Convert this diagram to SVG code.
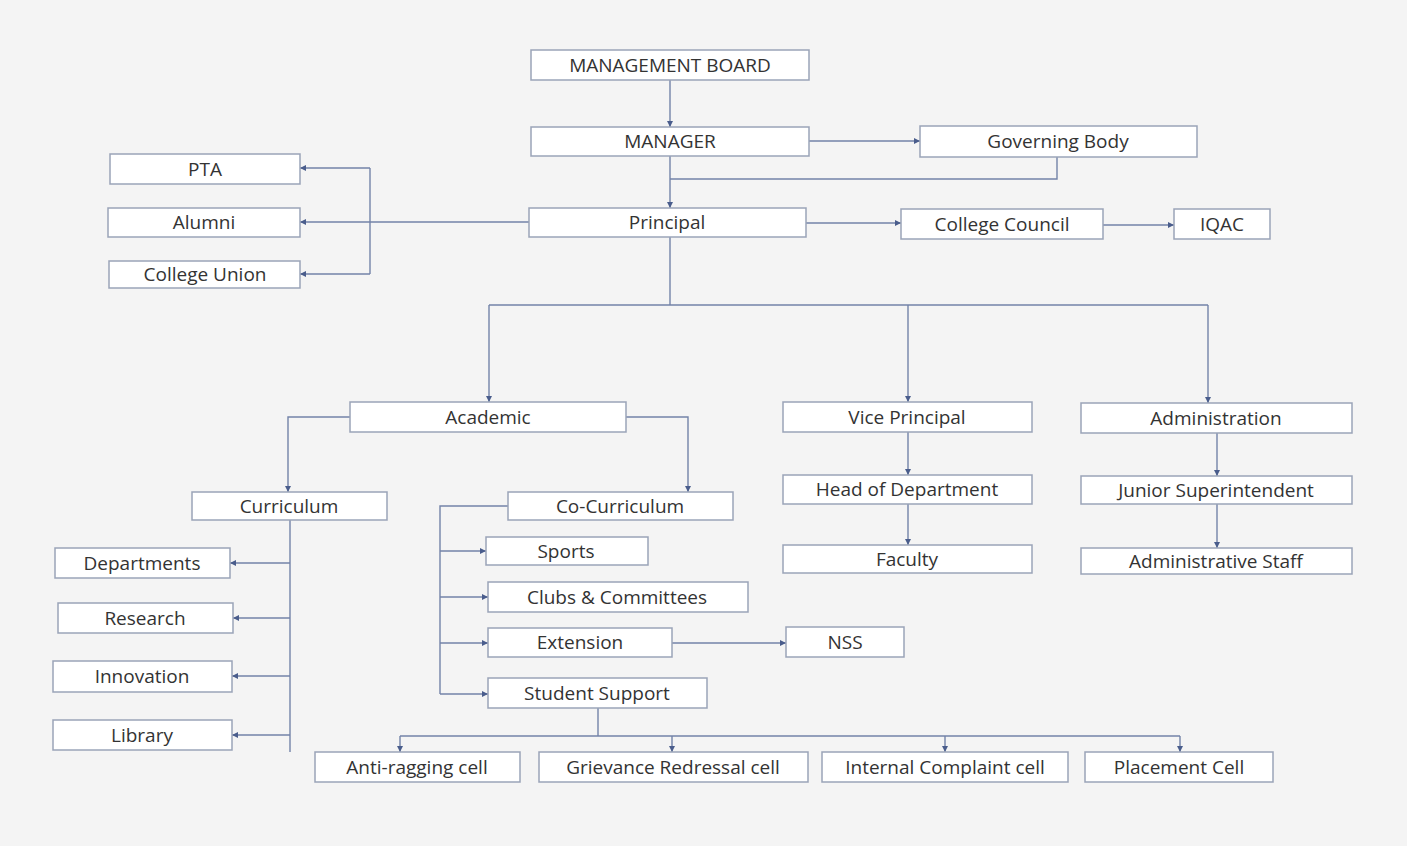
<svg xmlns="http://www.w3.org/2000/svg" width="1407" height="846" viewBox="0 0 1407 846">
<style>
.bg{fill:#f4f4f4}
.box{fill:#ffffff;stroke:#9aa4b8;stroke-width:1.5}
.t{font-family:"Open Sans","Liberation Sans",sans-serif;font-size:19px;fill:#333;text-anchor:middle}
.c path{fill:none;stroke:#7383a8;stroke-width:1.4}
</style>
<defs>
<marker id="a" markerUnits="userSpaceOnUse" markerWidth="7" markerHeight="7" refX="6" refY="3.5" orient="auto">
<path d="M0,0.5 L6,3.5 L0,6.5 z" fill="#4a5d8c"/>
</marker>
</defs>
<rect class="bg" x="0" y="0" width="1407" height="846" fill="#ffffff"/>
<rect class="bg" x="5" y="3" width="1397" height="843"/>

<g class="c" id="connectors">
<path d="M670,80 V127" marker-end="url(#a)"/>
<path d="M670,156 V208" marker-end="url(#a)"/>
<path d="M809,141 H920" marker-end="url(#a)"/>
<path d="M1057,157 V179 H670"/>
<path d="M529,222 H300" marker-end="url(#a)"/>
<path d="M370,168 V274"/>
<path d="M370,168 H300" marker-end="url(#a)"/>
<path d="M370,274 H300" marker-end="url(#a)"/>
<path d="M806,223 H901" marker-end="url(#a)"/>
<path d="M1103,225 H1174" marker-end="url(#a)"/>
<path d="M670,237 V305"/>
<path d="M489,305 H1208"/>
<path d="M489,305 V402" marker-end="url(#a)"/>
<path d="M908,305 V402" marker-end="url(#a)"/>
<path d="M1208,305 V403" marker-end="url(#a)"/>
<path d="M908,432 V475" marker-end="url(#a)"/>
<path d="M908,504 V545" marker-end="url(#a)"/>
<path d="M1217,433 V476" marker-end="url(#a)"/>
<path d="M1217,504 V548" marker-end="url(#a)"/>
<path d="M350,417 H288 V492" marker-end="url(#a)"/>
<path d="M626,417 H688 V492" marker-end="url(#a)"/>
<path d="M290,520 V752"/>
<path d="M290,563 H230" marker-end="url(#a)"/>
<path d="M290,618 H233" marker-end="url(#a)"/>
<path d="M290,676 H232" marker-end="url(#a)"/>
<path d="M290,735 H232" marker-end="url(#a)"/>
<path d="M508,506 H440 V694"/>
<path d="M440,551 H486" marker-end="url(#a)"/>
<path d="M440,597 H488" marker-end="url(#a)"/>
<path d="M440,643 H488" marker-end="url(#a)"/>
<path d="M440,694 H488" marker-end="url(#a)"/>
<path d="M672,643 H786" marker-end="url(#a)"/>
<path d="M598,708 V736"/>
<path d="M400,736 H1180"/>
<path d="M400,736 V752" marker-end="url(#a)"/>
<path d="M672,736 V752" marker-end="url(#a)"/>
<path d="M945,736 V752" marker-end="url(#a)"/>
<path d="M1180,736 V752" marker-end="url(#a)"/>
</g>

<g id="n-board"><rect class="box" x="531" y="50" width="278" height="30"/><text class="t" x="670" y="72">MANAGEMENT BOARD</text></g>
<g id="n-manager"><rect class="box" x="531" y="127" width="278" height="29"/><text class="t" x="670" y="148">MANAGER</text></g>
<g id="n-gb"><rect class="box" x="920" y="126" width="277" height="31"/><text class="t" x="1058" y="148">Governing Body</text></g>
<g id="n-principal"><rect class="box" x="529" y="208" width="277" height="29"/><text class="t" x="667" y="229">Principal</text></g>
<g id="n-cc"><rect class="box" x="901" y="209" width="202" height="30"/><text class="t" x="1002" y="231">College Council</text></g>
<g id="n-iqac"><rect class="box" x="1174" y="209" width="96" height="30"/><text class="t" x="1222" y="231">IQAC</text></g>
<g id="n-pta"><rect class="box" x="110" y="154" width="190" height="30"/><text class="t" x="205" y="176">PTA</text></g>
<g id="n-alumni"><rect class="box" x="108" y="208" width="192" height="29"/><text class="t" x="204" y="229">Alumni</text></g>
<g id="n-union"><rect class="box" x="109" y="261" width="191" height="27"/><text class="t" x="205" y="281">College Union</text></g>

<g id="n-academic"><rect class="box" x="350" y="402" width="276" height="30"/><text class="t" x="488" y="424">Academic</text></g>
<g id="n-vp"><rect class="box" x="783" y="402" width="249" height="30"/><text class="t" x="907" y="424">Vice Principal</text></g>
<g id="n-admin"><rect class="box" x="1081" y="403" width="271" height="30"/><text class="t" x="1216" y="425">Administration</text></g>
<g id="n-hod"><rect class="box" x="783" y="475" width="249" height="29"/><text class="t" x="907" y="496">Head of Department</text></g>
<g id="n-faculty"><rect class="box" x="783" y="545" width="249" height="28"/><text class="t" x="907" y="566">Faculty</text></g>
<g id="n-js"><rect class="box" x="1081" y="476" width="271" height="28"/><text class="t" x="1216" y="497">Junior Superintendent</text></g>
<g id="n-as"><rect class="box" x="1081" y="548" width="271" height="26"/><text class="t" x="1216" y="568">Administrative Staff</text></g>

<g id="n-curr"><rect class="box" x="192" y="492" width="195" height="28"/><text class="t" x="289" y="513">Curriculum</text></g>
<g id="n-cocurr"><rect class="box" x="508" y="492" width="225" height="28"/><text class="t" x="620" y="513">Co-Curriculum</text></g>
<g id="n-dept"><rect class="box" x="55" y="548" width="175" height="30"/><text class="t" x="142" y="570">Departments</text></g>
<g id="n-research"><rect class="box" x="58" y="603" width="175" height="30"/><text class="t" x="145" y="625">Research</text></g>
<g id="n-innov"><rect class="box" x="53" y="661" width="179" height="31"/><text class="t" x="142" y="683">Innovation</text></g>
<g id="n-library"><rect class="box" x="53" y="720" width="179" height="30"/><text class="t" x="142" y="742">Library</text></g>

<g id="n-sports"><rect class="box" x="486" y="537" width="162" height="28"/><text class="t" x="566" y="558">Sports</text></g>
<g id="n-clubs"><rect class="box" x="488" y="582" width="260" height="30"/><text class="t" x="617" y="604">Clubs &amp; Committees</text></g>
<g id="n-ext"><rect class="box" x="488" y="628" width="184" height="29"/><text class="t" x="580" y="649">Extension</text></g>
<g id="n-ss"><rect class="box" x="488" y="678" width="219" height="30"/><text class="t" x="597" y="700">Student Support</text></g>
<g id="n-nss"><rect class="box" x="786" y="627" width="118" height="30"/><text class="t" x="845" y="649">NSS</text></g>

<g id="n-anti"><rect class="box" x="315" y="752" width="205" height="30"/><text class="t" x="417" y="774">Anti-ragging cell</text></g>
<g id="n-griev"><rect class="box" x="539" y="752" width="269" height="30"/><text class="t" x="673" y="774">Grievance Redressal cell</text></g>
<g id="n-icc"><rect class="box" x="822" y="752" width="246" height="30"/><text class="t" x="945" y="774">Internal Complaint cell</text></g>
<g id="n-place"><rect class="box" x="1085" y="752" width="188" height="30"/><text class="t" x="1179" y="774">Placement Cell</text></g>
</svg>
